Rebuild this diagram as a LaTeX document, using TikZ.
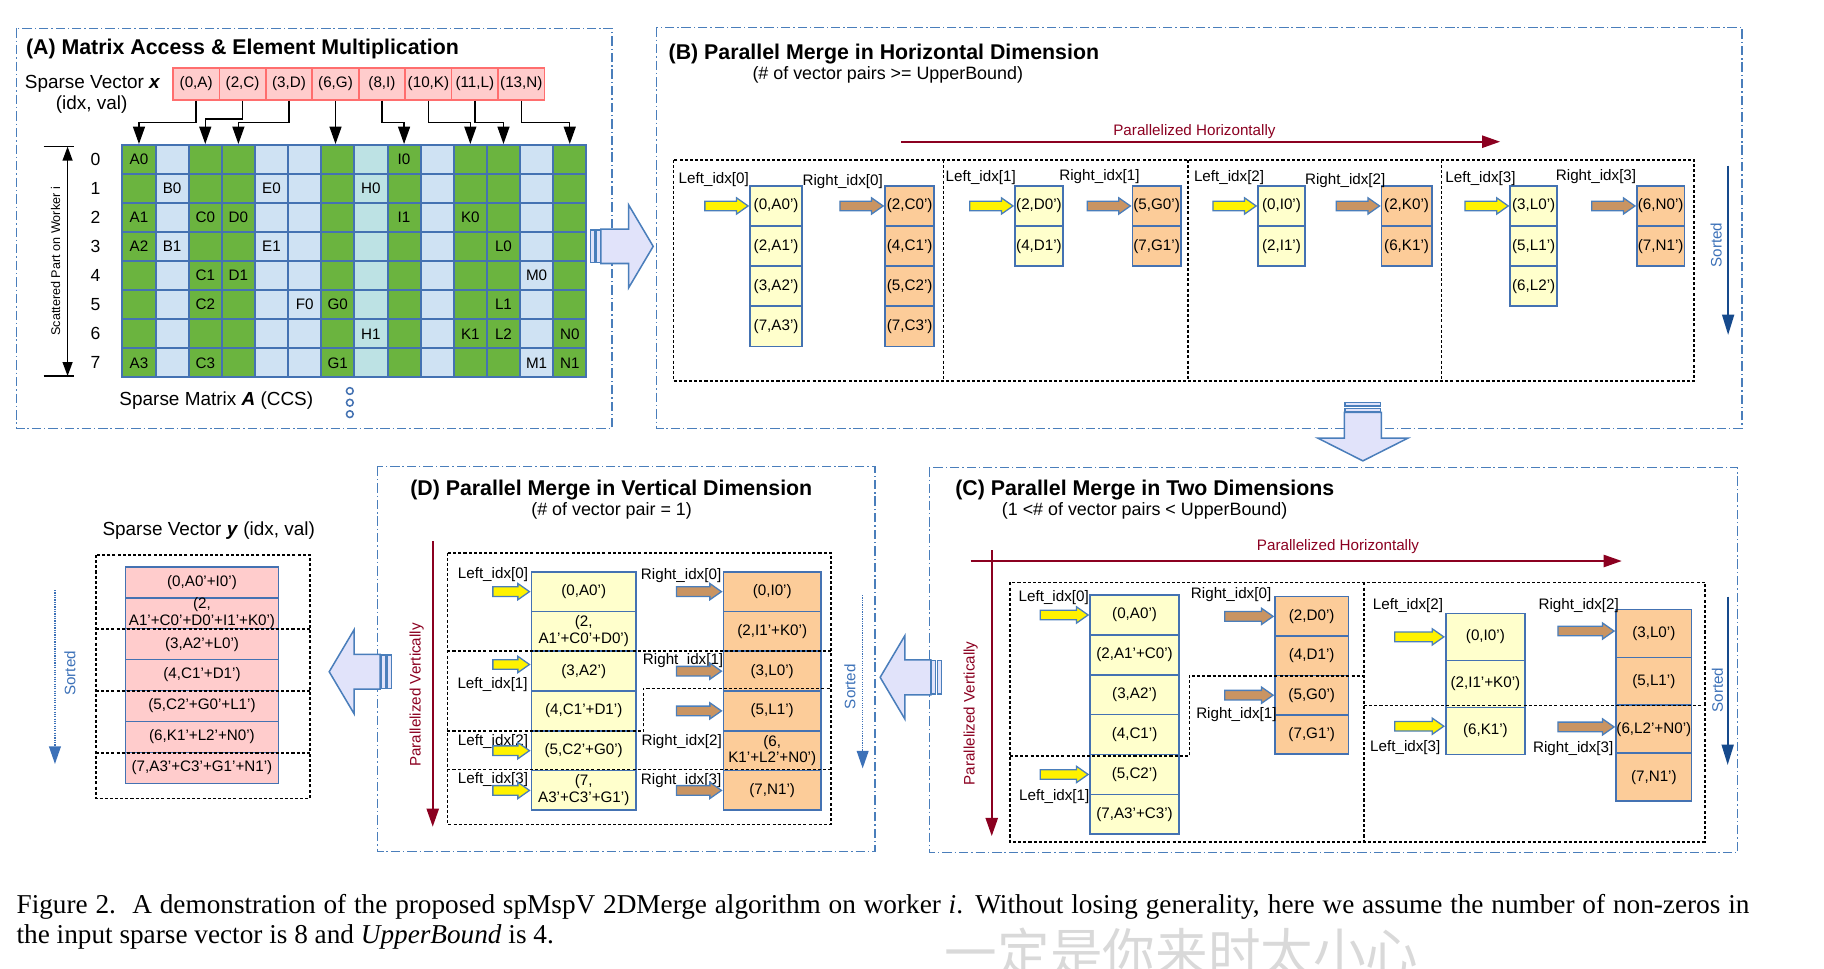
\documentclass[tikz,border=0pt]{standalone}
\usepackage{fontspec}
\setmainfont{Liberation Sans}
\newfontfamily\capfont{Liberation Serif}
\newfontfamily\cjkfont{Noto Sans CJK SC}
\usetikzlibrary{arrows.meta}
\usetikzlibrary{shapes.arrows}

\definecolor{panelblue}{RGB}{74,126,187}
\definecolor{cellblue}{RGB}{68,114,178}
\definecolor{mgreen}{RGB}{107,180,63}
\definecolor{mlight}{RGB}{207,226,243}
\definecolor{mteal}{RGB}{189,226,228}
\definecolor{lyellow}{RGB}{255,255,204}
\definecolor{rorange}{RGB}{252,204,153}
\definecolor{ypink}{RGB}{255,204,204}
\definecolor{xred}{RGB}{255,110,110}
\definecolor{ptrbrown}{RGB}{201,148,98}
\definecolor{parred}{RGB}{139,0,32}
\definecolor{sortblue}{RGB}{22,74,140}
\definecolor{sorttext}{RGB}{60,113,184}
\definecolor{lavender}{RGB}{225,227,250}

\newcommand{\ftitle}{\fontsize{18.25}{20}\selectfont\bfseries}
\newcommand{\flabel}{\fontsize{16.2}{18}\selectfont}
\newcommand{\fsub}{\fontsize{15.3}{17}\selectfont}
\newcommand{\fcell}{\fontsize{13}{14.3}\selectfont}
\newcommand{\fnum}{\fontsize{15}{17}\selectfont}
\newcommand{\fside}{\fontsize{10.8}{12}\selectfont}
\newcommand{\fcap}{\capfont\fontsize{23.3}{25.7}\selectfont}

\tikzset{
  panel/.style={draw=panelblue, line width=1.3pt, dash pattern=on 8pt off 2.5pt on 1.2pt off 2.5pt},
  part/.style={draw=black, line width=1.4pt, dash pattern=on 2.6pt off 1.8pt},
  cell/.style={draw=cellblue, line width=1.4pt, inner sep=0pt, align=center, font=\fcell},
  ycell/.style={cell, fill=lyellow},
  ocell/.style={cell, fill=rorange},
  pcell/.style={cell, fill=ypink},
  xcell/.style={cell, draw=xred, fill=ypink, minimum width=39.7pt, minimum height=27.3pt},
  mcell/.style={draw=cellblue, line width=1.7pt, minimum width=28.34pt, minimum height=24.84pt, inner sep=0pt},
  ptr/.style={single arrow, draw=panelblue, line width=1.1pt, inner xsep=0pt, inner ysep=3.55pt,
    single arrow head extend=2.85pt, single arrow tip angle=70, anchor=tip},
  lptr/.style={ptr, fill=yellow},
  rptr/.style={ptr, fill=ptrbrown},
  bigarrow/.style={single arrow, draw=panelblue, fill=lavender, line width=1.3pt, inner xsep=0pt, anchor=tip},
  stripe/.style={draw=panelblue, fill=lavender, line width=1.1pt},
  xarr/.style={line width=1.2pt, -{Triangle[length=14.8pt,width=10.2pt]}},
  pararr/.style={parred, line width=1.5pt, -{Triangle[length=15.5pt,width=10.5pt]}},
  sortarr/.style={sortblue, line width=1.8pt, -{Triangle[length=17.5pt,width=10.2pt]}},
  sortdot/.style={sorttext, line width=1.4pt, dash pattern=on 1pt off 1pt, -{Triangle[length=15pt,width=10pt]}},
  lab/.style={font=\fcell, anchor=base west, inner sep=0pt},
  ttl/.style={font=\ftitle, anchor=base west, inner sep=0pt},
  sub/.style={font=\fsub, anchor=base west, inner sep=0pt},
  side/.style={font=\fcell, rotate=90, inner sep=0pt}
}

\begin{document}
\begin{tikzpicture}[x=1pt, y=-1pt]
  \useasboundingbox (0,0) rectangle (1560,828);

  % (A) matrix access
  \draw[panel] (14.3,24.2) rectangle (523.5,366.3);
  \node[ttl] (titleA) at (22.1,46.6) {(A) Matrix Access \& Element Multiplication};
  \node[font=\flabel, anchor=base west, inner sep=0pt] (xlab) at (21.1,75.3) {Sparse Vector \textbf{\textit{x}}};
  \node[font=\flabel, anchor=base west, inner sep=0pt] (xidx) at (47.6,93.4) {(idx, val)};
  \foreach \col/\txt [count=\k from 0] in {0/{(0,A)},2/{(2,C)},3/{(3,D)},6/{(6,G)},8/{(8,I)},10/{(10,K)},11/{(11,L)},13/{(13,N)}}
    \node[xcell] (x\col) at ({167.77+39.73*\k},71.75) {\txt};

  \foreach \col/\cc in {0/mgreen,1/mlight,2/mgreen,3/mgreen,4/mlight,5/mlight,6/mgreen,7/mteal,8/mgreen,9/mlight,10/mgreen,11/mgreen,12/mlight,13/mgreen}
    \foreach \row in {0,...,7}
      \node[mcell, fill=\cc] (m-\row-\col) at ({118.87+28.34*\col},{136.42+24.84*\row}) {};
  \foreach \row/\col/\txt in {0/0/A0,0/8/I0,1/1/B0,1/4/E0,1/7/H0,2/0/A1,2/2/C0,2/3/D0,2/8/I1,2/10/K0,3/0/A2,3/1/B1,3/4/E1,3/11/L0,4/2/C1,4/3/D1,4/12/M0,5/2/C2,5/5/F0,5/6/G0,5/11/L1,6/7/H1,6/10/K1,6/11/L2,6/13/N0,7/0/A3,7/2/C3,7/6/G1,7/12/M1,7/13/N1}
    \node[font=\fcell] (e-\row-\col) at (m-\row-\col) {\txt};
  \foreach \row in {0,...,7}
    \node[font=\fnum] (rownum\row) at (81.6,{136.42+24.84*\row}) {\row};

  % vector entries go to their columns
  \foreach \col/\drop in {0/18.7,2/15.8,3/18.7,8/18.7,10/18.7,11/18.7,13/18.7}
    \draw[xarr] (x\col.south) -- ++(0,\drop) -| (m-0-\col.north);
  \draw[xarr] (x6.south) -- (x6.south |- m-0-6.north);

  \coordinate (scTop) at (57.8,125.4);
  \coordinate (scBot) at (57.8,321.6);
  \draw[line width=1.3pt, {Triangle[length=12pt,width=8.5pt]}-{Triangle[length=12pt,width=8.5pt]}] (scTop) -- (scBot);
  \draw[line width=1.3pt] (scTop) ++(-20.4,0) -- ++(25.5,0);
  \draw[line width=1.3pt] (scBot) ++(-20.4,0) -- ++(25.5,0);
  \node[font=\fside, rotate=90] (scat) at (47.6,223.5) {Scattered Part on Worker i};
  \node[font=\flabel, anchor=base west, inner sep=0pt] (alab) at (102,346.4) {Sparse Matrix \textbf{\textit{A}} (CCS)};
  \foreach \y [count=\k] in {334.4,344.4,354.2}
    \node[circle, draw=cellblue, fill=white, line width=1.3pt, inner sep=0pt, minimum size=5.8pt] (dot\k) at (299.2,\y) {};

  % A to B
  \draw[stripe] (505.2,196.7) rectangle (508.9,224.7);
  \draw[stripe] (510.3,196.7) rectangle (513.7,224.7);
  \node[bigarrow, inner ysep=14pt, minimum height=44.8pt, single arrow head extend=20.75pt, single arrow tip angle=118.7] (AtoB) at (559.4,210.7) {};

  % (B) horizontal merge
  \draw[panel] (561.6,23.4) rectangle (1490,366.3);
  \node[ttl] (titleB) at (571.7,51.3) {(B) Parallel Merge in Horizontal Dimension};
  \node[sub] (subB) at (643.4,68.4) {(\# of vector pairs >= UpperBound)};
  \node[font=\fcell, text=parred, anchor=base west, inner sep=0pt] (bhlab) at (952,115.5) {Parallelized Horizontally};
  \coordinate (bhL) at (770.6,121.2);
  \coordinate (bhR) at (1283,121.2);
  \draw[pararr] (bhL) -- (bhR);
  \draw[part] (576,136.8) rectangle (1449,325.9);
  \foreach \x in {807,1015.8,1232.8}
    \draw[part] (\x,136.8) -- (\x,325.9);

  \foreach \txt [count=\k] in {{(0,A0')},{(2,A1')},{(3,A2')},{(7,A3')}}
    \node[ycell, minimum width=44.5pt, minimum height=34.3pt] (b0l\k) at (663.75,{159+34.3*\k-17.15}) {\txt};
  \foreach \txt [count=\k] in {{(2,C0')},{(4,C1')},{(5,C2')},{(7,C3')}}
    \node[ocell, minimum width=42pt, minimum height=34.3pt] (b0r\k) at (778,{159+34.3*\k-17.15}) {\txt};
  \foreach \txt [count=\k] in {{(2,D0')},{(4,D1')}}
    \node[ycell, minimum width=41.1pt, minimum height=34.3pt] (b1l\k) at (888.6,{159+34.3*\k-17.15}) {\txt};
  \foreach \txt [count=\k] in {{(5,G0')},{(7,G1')}}
    \node[ocell, minimum width=41.5pt, minimum height=34.3pt] (b1r\k) at (989.2,{159+34.3*\k-17.15}) {\txt};
  \foreach \txt [count=\k] in {{(0,I0')},{(2,I1')}}
    \node[ycell, minimum width=40pt, minimum height=34.3pt] (b2l\k) at (1096,{159+34.3*\k-17.15}) {\txt};
  \foreach \txt [count=\k] in {{(2,K0')},{(6,K1')}}
    \node[ocell, minimum width=42.9pt, minimum height=34.3pt] (b2r\k) at (1203,{159+34.3*\k-17.15}) {\txt};
  \foreach \txt [count=\k] in {{(3,L0')},{(5,L1')},{(6,L2')}}
    \node[ycell, minimum width=40.1pt, minimum height=34.3pt] (b3l\k) at (1311.7,{159+34.3*\k-17.15}) {\txt};
  \foreach \txt [count=\k] in {{(6,N0')},{(7,N1')}}
    \node[ocell, minimum width=40.6pt, minimum height=34.3pt] (b3r\k) at (1420.3,{159+34.3*\k-17.15}) {\txt};

  \foreach \g/\lx/\ly/\rx/\ry in {0/580.3/156.8/686.2/159,1/808.6/155.4/905.8/154,2/1021/155.4/1116/157.4,3/1236/156.2/1330.5/154} {
    \node[lab] (bli\g) at (\lx,\ly) {Left\_idx[\g]};
    \node[lab] (bri\g) at (\rx,\ry) {Right\_idx[\g]};
    \node[lptr, minimum height=37pt] (bla\g) at (b\g l1.west) {};
    \node[rptr, minimum height=37pt] (bra\g) at (b\g r1.west) {};
  }
  \coordinate (bsTop) at (1478,141.7);
  \coordinate (bsBot) at (1478,286.5);
  \draw[sortarr] (bsTop) -- (bsBot);
  \node[side, text=sorttext] (bsort) at (1467.7,209.6) {Sorted};

  % B to C
  \draw[stripe] (1150.4,344.4) rectangle (1180.9,347.2);
  \draw[stripe] (1150.4,349.2) rectangle (1180.9,352.4);
  \node[bigarrow, rotate=-90, inner ysep=15.25pt, minimum height=41.4pt, single arrow head extend=22.55pt, single arrow tip angle=126.4] (BtoC) at (1165.6,394.9) {};

  % (C) two dimensions
  \draw[panel] (794.8,399.7) rectangle (1486.2,729.3);
  \node[ttl] (titleC) at (816.8,423.4) {(C) Parallel Merge in Two Dimensions};
  \node[sub] (subC) at (856.7,440.5) {(1 <\# of vector pairs < UpperBound)};
  \node[font=\fcell, text=parred, anchor=base west, inner sep=0pt] (chlab) at (1074.8,471) {Parallelized Horizontally};
  \coordinate (chL) at (830.2,479.8);
  \coordinate (chR) at (1387,479.8);
  \draw[pararr] (chL) -- (chR);
  \coordinate (cvT) at (848.2,470.4);
  \coordinate (cvB) at (848.2,715);
  \draw[pararr] (cvT) -- (cvB);
  \node[side, text=parred] (cvlab) at (830.2,610.1) {Parallelized Vertically};

  \foreach \txt [count=\k] in {{(0,A0')},{(2,A1'+C0')},{(3,A2')},{(4,C1')},{(5,C2')},{(7,A3'+C3')}}
    \node[ycell, minimum width=76.1pt, minimum height=34.1pt] (c0l\k) at (970.35,{508.9+34.1*\k-17.05}) {\txt};
  \foreach \txt [count=\k] in {{(2,D0')},{(4,D1')},{(5,G0')},{(7,G1')}}
    \node[ocell, minimum width=62.7pt, minimum height=33.7pt] (c0r\k) at (1121.85,{510.3+33.7*\k-16.85}) {\txt};
  \foreach \txt [count=\k] in {{(0,I0')},{(2,I1'+K0')},{(6,K1')}}
    \node[ycell, minimum width=67.8pt, minimum height=40.2pt] (c1l\k) at (1270.4,{524.6+40.2*\k-20.1}) {\txt};
  \foreach \txt [count=\k] in {{(3,L0')},{(5,L1')},{(6,L2'+N0')},{(7,N1')}}
    \node[ocell, minimum width=64.7pt, minimum height=41pt] (c1r\k) at (1414.45,{521.2+41*\k-20.5}) {\txt};

  \draw[part] (863.8,498.1) rectangle (1458.3,719.9);
  \draw[part] (1166.6,498.1) -- (1166.6,719.9);
  \draw[part] (863.8,646.6) -- (1017.2,646.6) -- (1017.2,577.9) -- (1166.6,577.9);
  \draw[part] (1166.6,603.5) -- (1458.3,603.5);

  \node[lab] (cli0) at (871,514.6) {Left\_idx[0]};
  \node[lab] (cli1) at (871.5,684.2) {Left\_idx[1]};
  \node[lab] (cri0) at (1018.4,511.7) {Right\_idx[0]};
  \node[lab] (cri1) at (1022.9,614.4) {Right\_idx[1]};
  \node[lab] (cli2) at (1174,521.2) {Left\_idx[2]};
  \node[lab] (cli3) at (1171.7,642.9) {Left\_idx[3]};
  \node[lab] (cri2) at (1315.7,521.2) {Right\_idx[2]};
  \node[lab] (cri3) at (1311,643.8) {Right\_idx[3]};
  \node[lptr, minimum height=41pt] (cla0) at (c0l1.west) {};
  \node[lptr, minimum height=41pt] (cla1) at (c0l5.west) {};
  \node[rptr, minimum height=41.3pt] (cra0) at (c0r1.west) {};
  \node[rptr, minimum height=41.3pt] (cra1) at (c0r3.west) {};
  \node[lptr, minimum height=42pt] (cla2) at (c1l1.west) {};
  \node[lptr, minimum height=42pt] (cla3) at ([yshift=4pt]c1l3.west) {};
  \node[rptr, minimum height=48pt] (cra2) at ([yshift=2pt]c1r1.west) {};
  \node[rptr, minimum height=48pt] (cra3) at ([yshift=2pt]c1r3.west) {};
  \coordinate (csTop) at (1477.6,510.3);
  \coordinate (csBot) at (1477.6,654.3);
  \draw[sortarr] (csTop) -- (csBot);
  \node[side, text=sorttext] (csort) at (1468.8,590.2) {Sorted};

  % C to D
  \draw[stripe] (796.5,565) rectangle (800.2,593.6);
  \draw[stripe] (801.6,565) rectangle (805.4,593.6);
  \node[bigarrow, rotate=180, inner ysep=14.3pt, minimum height=43.4pt, single arrow head extend=20.65pt, single arrow tip angle=118.7] (CtoD) at (752,579.3) {};

  % (D) vertical merge
  \draw[panel] (322.7,399.1) rectangle (748.4,728.4);
  \node[ttl] (titleD) at (350.7,423.4) {(D) Parallel Merge in Vertical Dimension};
  \node[sub] (subD) at (454.2,440.5) {(\# of vector pair = 1)};
  \coordinate (dvT) at (370.1,462.7);
  \coordinate (dvB) at (370.1,707);
  \draw[pararr] (dvT) -- (dvB);
  \node[side, text=parred] (dvlab) at (356.4,594.4) {Parallelized Vertically};

  \foreach \txt [count=\k] in {{(0,A0')},{(2,\\A1'+C0'+D0')},{(3,A2')},{(4,C1'+D1')},{(5,C2'+G0')},{(7,\\A3'+C3'+G1')}}
    \node[ycell, minimum width=89.5pt, minimum height=34pt] (dl\k) at (499.25,{489+34*\k-17}) {\txt};
  \foreach \txt [count=\k] in {{(0,I0')},{(2,I1'+K0')},{(3,L0')},{(5,L1')},{(6,\\K1'+L2'+N0')},{(7,N1')}}
    \node[ocell, minimum width=83.5pt, minimum height=34pt] (dr\k) at (660.45,{489+34*\k-17}) {\txt};

  \draw[part] (382.6,472.7) rectangle (710.7,705);
  \draw[part] (382.6,556.5) -- (710.7,556.5);
  \draw[part] (382.6,625.2) -- (550.3,625.2) -- (550.3,588.7) -- (710.7,588.7);
  \draw[part] (382.6,658) -- (710.7,658);

  \node[lab] (dli0) at (391.4,494.7) {Left\_idx[0]};
  \node[lab] (dli1) at (391.1,588.7) {Left\_idx[1]};
  \node[lab] (dli2) at (391.4,637.2) {Left\_idx[2]};
  \node[lab] (dli3) at (391.4,670.5) {Left\_idx[3]};
  \node[lab] (dri0) at (548,495.3) {Right\_idx[0]};
  \node[lab] (dri1) at (549.7,567.9) {Right\_idx[1]};
  \node[lab] (dri2) at (548.5,637.2) {Right\_idx[2]};
  \node[lab] (dri3) at (548,671.3) {Right\_idx[3]};
  \node[lptr, minimum height=31.3pt] (dla0) at (dl1.west) {};
  \node[lptr, minimum height=31.3pt] (dla1) at ([yshift=5.7pt]dl3.west) {};
  \node[lptr, minimum height=31.3pt] (dla2) at (dl5.west) {};
  \node[lptr, minimum height=31.3pt] (dla3) at (dl6.west) {};
  \node[rptr, minimum height=38.4pt] (dra0) at (dr1.west) {};
  \node[rptr, minimum height=38.4pt] (dra1) at (dr3.west) {};
  \node[rptr, minimum height=38.4pt] (dra1b) at (dr4.west) {};
  \node[rptr, minimum height=38.4pt] (dra3) at (dr6.west) {};
  \coordinate (dsTop) at (737.8,508.9);
  \coordinate (dsBot) at (737.8,657.2);
  \draw[sortdot] (dsTop) -- (dsBot);
  \node[side, text=sorttext] (dsort) at (727,587.3) {Sorted};

  % D to y
  \draw[stripe] (326.4,560.2) rectangle (330.1,588.7);
  \draw[stripe] (331.3,560.2) rectangle (335,588.7);
  \node[bigarrow, rotate=180, inner ysep=14.25pt, minimum height=43.6pt, single arrow head extend=21.1pt, single arrow tip angle=118.7] (Dtoy) at (280.8,574.5) {};

  % result vector y
  \node[font=\flabel, anchor=base west, inner sep=0pt] (ylab) at (87.5,457.6) {Sparse Vector \textbf{\textit{y}} (idx, val)};
  \foreach \txt [count=\k] in {{(0,A0'+I0')},{(2,\\A1'+C0'+D0'+I1'+K0')},{(3,A2'+L0')},{(4,C1'+D1')},{(5,C2'+G0'+L1')},{(6,K1'+L2'+N0')},{(7,A3'+C3'+G1'+N1')}}
    \node[pcell, minimum width=131.1pt, minimum height=26.47pt] (y\k) at (172.75,{484.7+26.47*\k-13.235}) {\txt};
  \draw[part] (82.1,474.7) rectangle (265.1,682.8);
  \foreach \y in {538,591,643.8}
    \draw[part] (82.1,\y) -- (265.1,\y);
  \coordinate (ysTop) at (47,504.6);
  \coordinate (ysBot) at (47,653.4);
  \draw[sortdot] (ysTop) -- (ysBot);
  \node[side, text=sorttext] (ysort) at (59.9,575.9) {Sorted};

  % caption
  \node[anchor=base west, text width=1482pt, align=justify, inner sep=0pt, font=\fcap] (caption) at (14,781.2)
    {Figure 2.\hspace{0.6em}A demonstration of the proposed spMspV 2DMerge algorithm on worker \textit{i}. Without losing generality, here we assume the number of non-zeros in\linebreak the input sparse vector is 8 and \textit{UpperBound} is 4.};
  \node[font=\cjkfont\fontsize{45}{45}\selectfont, text=gray!30, anchor=base west, inner sep=0pt] (wmark) at (808,832) {一定是你来时太小心};
\end{tikzpicture}
\end{document}
